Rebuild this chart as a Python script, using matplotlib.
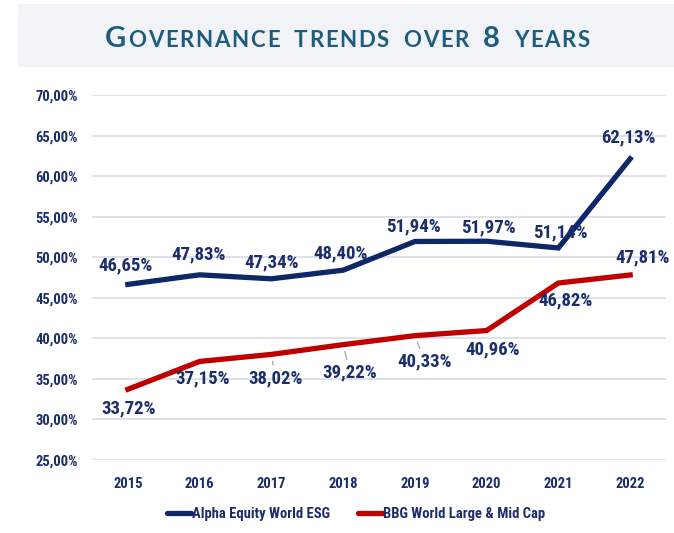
import matplotlib
matplotlib.use("Agg")
import matplotlib.pyplot as plt
from matplotlib import font_manager
from matplotlib.lines import Line2D
from matplotlib.patches import Rectangle

# ---------------- data ----------------
years = ["2015", "2016", "2017", "2018", "2019", "2020", "2021", "2022"]
alpha_values = [46.65, 47.83, 47.34, 48.40, 51.94, 51.97, 51.14, 62.13]
bbg_values = [33.72, 37.15, 38.02, 39.22, 40.33, 40.96, 46.82, 47.81]
series_names = ["Alpha Equity World ESG", "BBG World Large & Mid Cap"]
y_ticks = [25, 30, 35, 40, 45, 50, 55, 60, 65, 70]
title_text = "Governance trends over 8 years"

# ---------------- style ----------------
available = {f.name for f in font_manager.fontManager.ttflist}
def pick(cands):
    for c in cands:
        if c in available:
            return c
    return "DejaVu Sans"

label_font = pick(["Liberation Sans Narrow", "Roboto Condensed", "Open Sans Condensed", "Lato", "Roboto"])
title_font = pick(["Lato", "Open Sans", "Noto Sans"])

NAVY = "#0E2867"
RED = "#C00000"
TXT = "#1B2E6B"
GRID = "#D9DCE6"
TITLE_C = "#1D5C7D"
BAND = "#F2F3F7"

W, H = 674, 533
fig = plt.figure(figsize=(W / 100, H / 100), dpi=100)
fig.patch.set_facecolor("white")

# title band
fig.patches.append(Rectangle((18 / W, 1 - 67 / H), 1 - 18 / W, (67 - 4) / H,
                             transform=fig.transFigure, facecolor=BAND,
                             edgecolor="none", zorder=0))

ax = fig.add_axes([92 / W, 1 - 460 / H, (666 - 92) / W, (460 - 95) / H])
x = list(range(len(years)))
ax.set_xlim(-0.5, len(years) - 0.5)
ax.set_ylim(25, 70)
ax.set_yticks(y_ticks)
ax.set_yticklabels([f"{v:.2f}%".replace(".", ",") for v in y_ticks])
ax.set_xticks(x)
ax.set_xticklabels(years)
for s in ax.spines.values():
    s.set_visible(False)
ax.tick_params(length=0)
ax.tick_params(axis="y", pad=10, labelsize=10.5, labelcolor=TXT)
ax.tick_params(axis="x", pad=12, labelsize=10.5, labelcolor=TXT)
for lab in ax.get_xticklabels() + ax.get_yticklabels():
    lab.set_fontfamily(label_font)
    lab.set_fontweight("bold")
ax.grid(axis="y", color=GRID, lw=1.2)
ax.set_axisbelow(True)

ax.plot(x, alpha_values, color=NAVY, lw=3.8, solid_joinstyle="miter", zorder=3)
ax.plot(x, bbg_values, color=RED, lw=3.8, solid_joinstyle="miter", zorder=3)

# label offsets in pixels (layout only)
alpha_off = [(-2, 19), (-1, 20), (0, 16), (-3, 17), (-1, 15), (2, 14), (2, 16), (-2, 21)]
bbg_off = [(1, -19), (3, -17), (4, -24), (7, -28), (10, -26), (6, -19), (7, -17), (13, 18)]
leader = [False, False, True, True, True, False, False, False]

def fmt(v):
    return f"{v:.2f}%".replace(".", ",")

for i, v in enumerate(alpha_values):
    ax.annotate(fmt(v), (i, v), xytext=alpha_off[i], textcoords="offset pixels",
                ha="center", va="center", fontsize=13.5, fontweight="bold",
                color=TXT, family=label_font, zorder=5)
for i, v in enumerate(bbg_values):
    kw = {}
    if leader[i]:
        kw["arrowprops"] = dict(arrowstyle="-", color="#A6A6A6", lw=0.9,
                                shrinkA=1, shrinkB=5)
    ax.annotate(fmt(v), (i, v), xytext=bbg_off[i], textcoords="offset pixels",
                ha="center", va="center", fontsize=13.5, fontweight="bold",
                color=TXT, family=label_font, zorder=5, **kw)

# legend
handles = [Line2D([], [], color=NAVY, lw=3.8, solid_capstyle="round"),
           Line2D([], [], color=RED, lw=3.8, solid_capstyle="round")]
leg = fig.legend(handles, series_names, loc="center", bbox_to_anchor=(356 / W, 1 - 514 / H),
                 ncol=2, frameon=False, handlelength=1.7, handletextpad=0.05,
                 columnspacing=1.9, prop=dict(family=label_font, weight="bold", size=10.5))
for t in leg.get_texts():
    t.set_color(TXT)

# title in small caps, char by char
renderer = fig.canvas.get_renderer()
pieces = []
for ch in title_text:
    if ch.isupper() or ch.isdigit():
        pieces.append((ch.upper(), 21))
    else:
        pieces.append((ch.upper(), 16))
texts = []
for ch, sz in pieces:
    t = fig.text(0, 0, ch if ch != " " else "I", fontsize=sz, fontweight="bold",
                 family=title_font, color=TITLE_C, va="baseline", ha="left")
    texts.append(t)
widths = []
for (ch, sz), t in zip(pieces, texts):
    bb = t.get_window_extent(renderer)
    w = bb.width
    if ch == " ":
        w *= 1.6
        t.set_visible(False)
    widths.append(w)
x0, x1 = 105, 590
target = x1 - x0
nat = sum(widths)
gap = (target - nat) / (len(pieces) - 1)
cur = x0
for w, t in zip(widths, texts):
    t.set_x(cur / W)
    t.set_y(1 - 47 / H)
    cur += w + gap

fig.savefig("out.png", dpi=100)
print(label_font, title_font, gap)
